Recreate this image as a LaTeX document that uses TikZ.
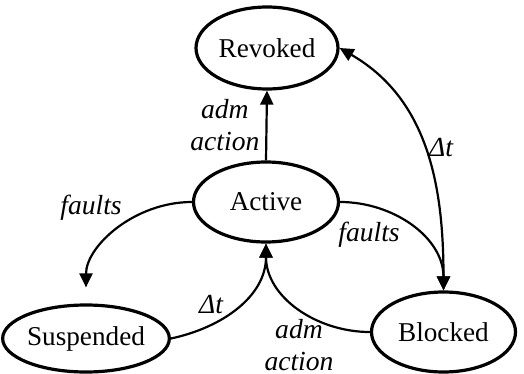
\documentclass[tikz,border=0pt]{standalone}
\usepackage{fontspec}
\setmainfont{Liberation Serif}[ItalicFont={Liberation Serif Italic}]
\usetikzlibrary{shapes.geometric,arrows.meta}
\begin{document}
\begin{tikzpicture}[x=0.5pt,y=0.5pt,
  state/.style={ellipse,draw,line width=1.6pt,inner sep=0pt,font=\fontsize{13.6}{16}\selectfont},
  tip/.tip={Triangle[length=7pt,width=6.5pt]},
  conn/.style={line width=1.1pt,-tip},
  lbl/.style={font=\fontsize{13.8}{16}\selectfont\itshape,align=center,inner sep=0pt}]
\useasboundingbox (0,0) rectangle (524,-374);
\node[state,minimum width=71pt,minimum height=41pt] (rev) at (267,-48) {Revoked};
\node[state,minimum width=72.5pt,minimum height=40pt] (act) at (266,-202) {Active};
\node[state,minimum width=71pt,minimum height=33.5pt] (sus) at (86,-338.5) {Suspended};
\node[state,minimum width=72pt,minimum height=40pt] (blk) at (443.5,-332) {Blocked};

\draw[conn] (act.north) -- node[lbl,midway,left=3pt]{adm\\action} (rev.south);
\draw[conn,tip-tip] (rev.east) to[out=-30,in=90] (blk.north)
  node[lbl] at (441,-148) {Δt};
\draw[conn,shorten >=8pt] (act.west) to[out=180,in=90] (sus.north)
  node[lbl] at (91,-208) {faults};
\draw[conn] (sus.east) to[out=12,in=-90] (act.south)
  node[lbl] at (211,-305) {Δt};
\draw[conn] (act.east) to[out=0,in=90] (blk.north)
  node[lbl] at (369,-235) {faults};
\draw[conn] (blk.west) to[out=180,in=-90] (act.south)
  node[lbl] at (299,-345) {adm\\action};
\end{tikzpicture}
\end{document}
